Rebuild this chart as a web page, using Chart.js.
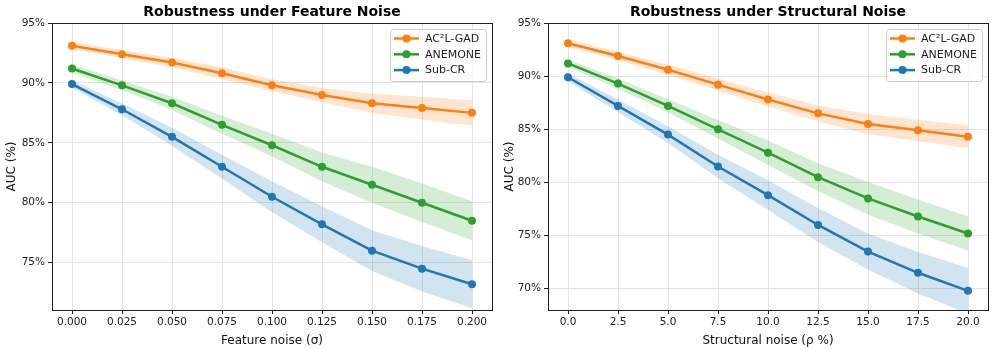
<!DOCTYPE html>
<html>
<head>
<meta charset="utf-8">
<script src="https://cdn.jsdelivr.net/npm/chart.js@4/dist/chart.umd.min.js"></script>
<style>
  body { margin: 0; background: #fff; }
  #wrap { position: relative; width: 996px; height: 350px; }
  canvas { position: absolute; top: 0; }
</style>
</head>
<body>
<div id="wrap">
  <canvas id="featPlot" width="498" height="350" style="left:0"></canvas>
  <canvas id="structPlot" width="498" height="350" style="left:498px"></canvas>
</div>
<script>
// methods and colours
const methods = ['AC²L-GAD', 'ANEMONE', 'Sub-CR'];
const colors = ['#ff7f0e', '#2ca02c', '#1f77b4'];

// left panel: feature noise
const featNoise = [0, 0.025, 0.05, 0.075, 0.1, 0.125, 0.15, 0.175, 0.2];
const featMean = [
  [93.1, 92.4, 91.7, 90.8, 89.8, 89.0, 88.3, 87.9, 87.5],
  [91.2, 89.8, 88.3, 86.5, 84.8, 83.0, 81.5, 80.0, 78.5],
  [89.9, 87.8, 85.5, 83.0, 80.5, 78.2, 76.0, 74.5, 73.2]
];
const featStd = [
  [0.3, 0.35, 0.4, 0.5, 0.5, 0.6, 0.8, 0.95, 1.05],
  [0.33, 0.4, 0.55, 0.75, 0.95, 1.2, 1.5, 1.6, 1.63],
  [0.3, 0.5, 0.75, 1.0, 1.3, 1.5, 1.7, 1.9, 2.0]
];
const featTicks = [0, 0.025, 0.05, 0.075, 0.1, 0.125, 0.15, 0.175, 0.2];
const featYTicks = [75, 80, 85, 90, 95];

// right panel: structural noise
const structNoise = [0, 2.5, 5, 7.5, 10, 12.5, 15, 17.5, 20];
const structMean = [
  [93.1, 91.9, 90.6, 89.2, 87.8, 86.5, 85.5, 84.9, 84.3],
  [91.2, 89.3, 87.2, 85.0, 82.8, 80.5, 78.5, 76.8, 75.2],
  [89.9, 87.2, 84.5, 81.5, 78.8, 76.0, 73.5, 71.5, 69.8]
];
const structStd = [
  [0.34, 0.4, 0.5, 0.57, 0.65, 0.75, 0.95, 1.0, 1.07],
  [0.34, 0.47, 0.62, 0.87, 1.15, 1.3, 1.55, 1.6, 1.6],
  [0.38, 0.6, 0.78, 1.1, 1.4, 1.6, 1.7, 1.95, 2.15]
];
const structTicks = [0, 2.5, 5, 7.5, 10, 12.5, 15, 17.5, 20];
const structYTicks = [70, 75, 80, 85, 90, 95];

const FONT = 'DejaVu Sans';

function hexAlpha(hex, a) {
  const n = parseInt(hex.slice(1), 16);
  return `rgba(${n >> 16},${(n >> 8) & 255},${n & 255},${a})`;
}

function buildDatasets(xs, means, stds) {
  const sets = [];
  methods.forEach((m, k) => {
    const up = xs.map((x, i) => ({ x: x, y: means[k][i] + stds[k][i] }));
    const lo = xs.map((x, i) => ({ x: x, y: means[k][i] - stds[k][i] }));
    sets.push({ label: '', band: true, data: up, borderWidth: 0, pointRadius: 0,
      backgroundColor: hexAlpha(colors[k], 0.2), fill: '+1', order: 20 - k });
    sets.push({ label: '', band: true, data: lo, borderWidth: 0, pointRadius: 0,
      fill: false, order: 20 - k });
  });
  methods.forEach((m, k) => {
    sets.push({
      label: m,
      data: xs.map((x, i) => ({ x: x, y: means[k][i] })),
      borderColor: colors[k], backgroundColor: colors[k],
      borderWidth: 2.5, pointRadius: 4, pointHoverRadius: 4,
      pointBackgroundColor: colors[k], pointBorderColor: colors[k], pointBorderWidth: 0,
      fill: false, tension: 0, order: 5 - k
    });
  });
  return sets;
}

// frame + title + legend inside the axes
const decor = {
  id: 'decor',
  afterDraw(chart, args, opts) {
    const { ctx, chartArea: a } = chart;
    ctx.save();
    ctx.strokeStyle = '#222';
    ctx.lineWidth = 1;
    ctx.strokeRect(Math.round(a.left) + 0.5, Math.round(a.top) + 0.5,
      Math.round(a.right - a.left), Math.round(a.bottom - a.top));

    ctx.fillStyle = '#000';
    ctx.font = `bold 14px "${FONT}"`;
    ctx.textAlign = 'center';
    ctx.textBaseline = 'middle';
    ctx.fillText(opts.title, (a.left + a.right) / 2, 12);

    // legend box
    const mains = chart.data.datasets.filter(d => !d.band);
    const w = 96, h = 52;
    const x = a.right - w - 6, y = a.top + 6;
    ctx.fillStyle = 'rgba(255,255,255,0.8)';
    ctx.strokeStyle = '#cccccc';
    ctx.beginPath();
    ctx.roundRect(x + 0.5, y + 0.5, w, h, 3);
    ctx.fill();
    ctx.stroke();
    ctx.font = `11px "${FONT}"`;
    ctx.textAlign = 'left';
    mains.forEach((d, i) => {
      const yy = y + 9.5 + i * 15.8;
      ctx.strokeStyle = d.borderColor;
      ctx.lineWidth = 2.5;
      ctx.beginPath();
      ctx.moveTo(x + 4, yy);
      ctx.lineTo(x + 29, yy);
      ctx.stroke();
      ctx.fillStyle = d.borderColor;
      ctx.beginPath();
      ctx.arc(x + 16.5, yy, 4, 0, Math.PI * 2);
      ctx.fill();
      ctx.fillStyle = '#222';
      ctx.fillText(d.label, x + 35, yy + 0.5);
    });
    ctx.restore();
  }
};

function makeChart(id, cfg) {
  return new Chart(document.getElementById(id), {
    type: 'line',
    data: { datasets: buildDatasets(cfg.xs, cfg.means, cfg.stds) },
    options: {
      responsive: false,
      animation: false,
      devicePixelRatio: 1,
      layout: { padding: { top: 23, right: cfg.padRight, left: 0, bottom: 0 } },
      plugins: {
        legend: { display: false },
        tooltip: { enabled: false },
        decor: { title: cfg.title }
      },
      scales: {
        x: {
          type: 'linear', min: cfg.xMin, max: cfg.xMax,
          afterBuildTicks: s => { s.ticks = cfg.xTicks.map(v => ({ value: v })); },
          afterFit: s => { s.height = 40; },
          ticks: { font: { family: FONT, size: 10.5 }, color: '#222', padding: 2,
            maxRotation: 0, autoSkip: false, callback: v => v.toFixed(cfg.dec) },
          grid: { color: '#e4e4e4', tickColor: '#222', tickLength: 4 },
          border: { display: false },
          title: { display: true, text: cfg.xLabel, color: '#111',
            font: { family: FONT, size: 12 }, padding: { top: 1, bottom: 2 } }
        },
        y: {
          min: cfg.yMin, max: cfg.yMax,
          afterBuildTicks: s => { s.ticks = cfg.yTicks.map(v => ({ value: v })); },
          afterFit: s => { s.width = cfg.yWidth; },
          ticks: { font: { family: FONT, size: 10.5 }, color: '#222', padding: 3,
            callback: v => v + '%' },
          grid: { color: '#e4e4e4', tickColor: '#222', tickLength: 4 },
          border: { display: false },
          title: { display: true, text: 'AUC (%)', color: '#111',
            font: { family: FONT, size: 12 }, padding: { top: 5, bottom: 2 } }
        }
      }
    },
    plugins: [decor]
  });
}

makeChart('featPlot', {
  xs: featNoise, means: featMean, stds: featStd,
  xTicks: featTicks, yTicks: featYTicks, dec: 3,
  xMin: -0.01, xMax: 0.21, yMin: 71.05, yMax: 95,
  padRight: 6, yWidth: 52,
  title: 'Robustness under Feature Noise', xLabel: 'Feature noise (σ)'
});

makeChart('structPlot', {
  xs: structNoise, means: structMean, stds: structStd,
  xTicks: structTicks, yTicks: structYTicks, dec: 1,
  xMin: -1, xMax: 21, yMin: 68, yMax: 95,
  padRight: 8, yWidth: 50,
  title: 'Robustness under Structural Noise', xLabel: 'Structural noise (ρ %)'
});
</script>
</body>
</html>
